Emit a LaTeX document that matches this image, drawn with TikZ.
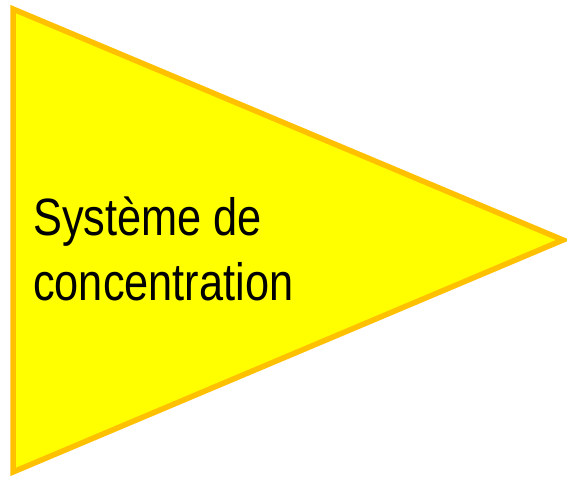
\documentclass[tikz,border=0pt]{standalone}
\usepackage{fontspec}
\setmainfont{Liberation Sans}
\newfontfamily\lblfont[FakeStretch=0.825]{Liberation Sans}
\definecolor{triyellow}{HTML}{FFFF00}
\definecolor{triborder}{HTML}{FFC000}
\tikzset{
  tri/.style={fill=triyellow, draw=triborder, line width=5.5pt, line join=miter},
  lbl/.style={anchor=base west, inner sep=0pt, font=\lblfont\fontsize{52.5}{64}\selectfont, align=left}
}
\begin{document}
\begin{tikzpicture}[x=1pt,y=1pt]
\useasboundingbox (0,0) rectangle (567,-478);
\coordinate (tl) at (13,-9);
\coordinate (bl) at (13,-472);
\coordinate (tip) at (563,-240);
\draw[tri] (tl) -- (tip) -- (bl) -- cycle;
\node[lbl] (t1) at (33,-236) {Système de};
\node[lbl] (t2) at (33,-300) {concentration};
\end{tikzpicture}
\end{document}
